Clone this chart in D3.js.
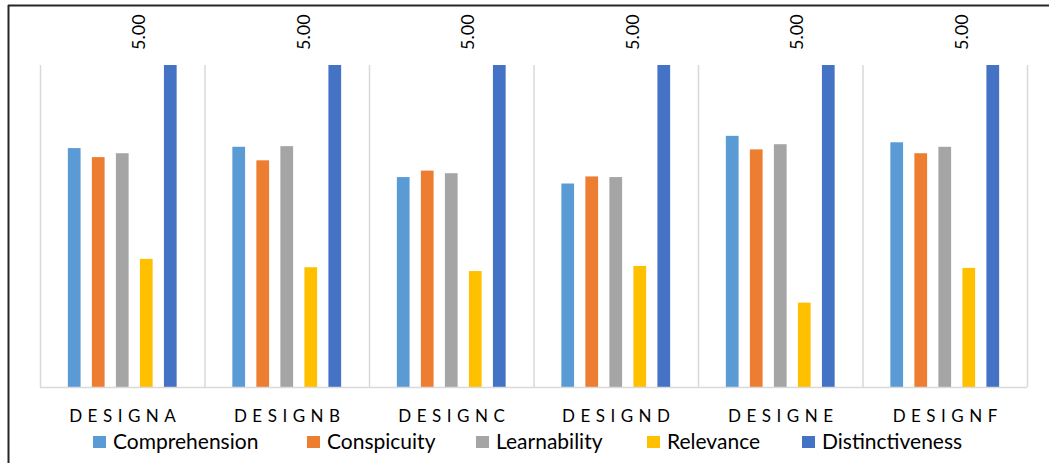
<!DOCTYPE html>
<html>
<head>
<meta charset="utf-8">
<script src="https://cdn.jsdelivr.net/npm/d3@7"></script>
<style>
  html, body { margin: 0; padding: 0; background: #fff; }
  svg { display: block; }
  text { font-family: Lato, "Open Sans", sans-serif; fill: #000; }
</style>
</head>
<body>
<svg id="chart" width="1049" height="463"></svg>
<script>
// Categories and series
const designs = ["DESIGNA", "DESIGNB", "DESIGNC", "DESIGND", "DESIGNE", "DESIGNF"];
const seriesNames = ["Comprehension", "Conspicuity", "Learnability", "Relevance", "Distinctiveness"];
const seriesColors = ["#5B9BD5", "#ED7D31", "#A5A5A5", "#FFC000", "#4472C4"];

// Scores per series, one value per design (A..F)
const comprehension   = [3.71, 3.73, 3.26, 3.16, 3.90, 3.80];
const conspicuity     = [3.57, 3.52, 3.36, 3.27, 3.69, 3.63];
const learnability    = [3.63, 3.74, 3.32, 3.26, 3.77, 3.73];
const relevance       = [1.99, 1.86, 1.80, 1.88, 1.31, 1.85];
const distinctiveness = [5.00, 5.00, 5.00, 5.00, 5.00, 5.00];

const seriesValues = [comprehension, conspicuity, learnability, relevance, distinctiveness];
const labelledSeries = "Distinctiveness";

const svg = d3.select("#chart");

// Plot area
const plot = { left: 40, right: 1027, top: 65, bottom: 387 };

const x0 = d3.scaleBand().domain(designs).range([plot.left, plot.right]).padding(0);
const x1 = d3.scaleBand().domain(seriesNames).range([0, x0.bandwidth()])
  .paddingInner(0.47).paddingOuter(1.16);
const y = d3.scaleLinear().domain([0, 5]).range([plot.bottom, plot.top]);

// Frame lines (top and left)
svg.append("line").attr("x1", 8).attr("x2", 1049).attr("y1", 5.5).attr("y2", 5.5)
  .attr("stroke", "#262626").attr("stroke-width", 2);
svg.append("line").attr("x1", 8.5).attr("x2", 8.5).attr("y1", 5).attr("y2", 463)
  .attr("stroke", "#262626").attr("stroke-width", 2);

// Vertical separators between designs
const bounds = designs.map(d => x0(d)).concat([plot.right]);
svg.append("g").selectAll("line").data(bounds).join("line")
  .attr("x1", d => d + 0.5).attr("x2", d => d + 0.5)
  .attr("y1", plot.top).attr("y2", plot.bottom)
  .attr("stroke", "#d9d9d9").attr("stroke-width", 1.5);

// Bars
const rows = [];
designs.forEach((d, i) => seriesNames.forEach((s, j) => {
  rows.push({ design: d, series: s, value: seriesValues[j][i], color: seriesColors[j] });
}));

svg.append("g").selectAll("rect").data(rows).join("rect")
  .attr("x", d => x0(d.design) + x1(d.series))
  .attr("y", d => y(d.value))
  .attr("width", x1.bandwidth())
  .attr("height", d => y(0) - y(d.value))
  .attr("fill", d => d.color);

// Baseline
svg.append("line").attr("x1", plot.left).attr("x2", plot.right)
  .attr("y1", plot.bottom + 0.5).attr("y2", plot.bottom + 0.5)
  .attr("stroke", "#d9d9d9").attr("stroke-width", 1.5);

// Value labels on the distinctiveness bars
svg.append("g").selectAll("text")
  .data(rows.filter(d => d.series === labelledSeries)).join("text")
  .attr("transform", d => {
    const cx = x0(d.design) + x1(d.series) + x1.bandwidth() / 2;
    return `translate(${cx - 25},${y(d.value) - 15}) rotate(-90)`;
  })
  .attr("text-anchor", "start")
  .attr("font-size", 18)
  .text(d => d3.format(".2f")(d.value));

// Category axis labels
svg.append("g").selectAll("text").data(designs).join("text")
  .attr("x", d => x0(d) + x0.bandwidth() / 2 + 3)
  .attr("y", 422)
  .attr("text-anchor", "middle")
  .attr("font-size", 17)
  .attr("letter-spacing", "5.5px")
  .text(d => d);

// Legend
const legendX = [93, 307, 476, 647, 802];
const legend = svg.append("g").selectAll("g").data(seriesNames).join("g")
  .attr("transform", (d, i) => `translate(${legendX[i]},0)`);
legend.append("rect").attr("x", 0).attr("y", 436).attr("width", 13).attr("height", 12)
  .attr("fill", (d, i) => seriesColors[i]);
legend.append("text").attr("x", 20).attr("y", 449)
  .attr("font-size", 21)
  .text(d => d);
</script>
</body>
</html>
